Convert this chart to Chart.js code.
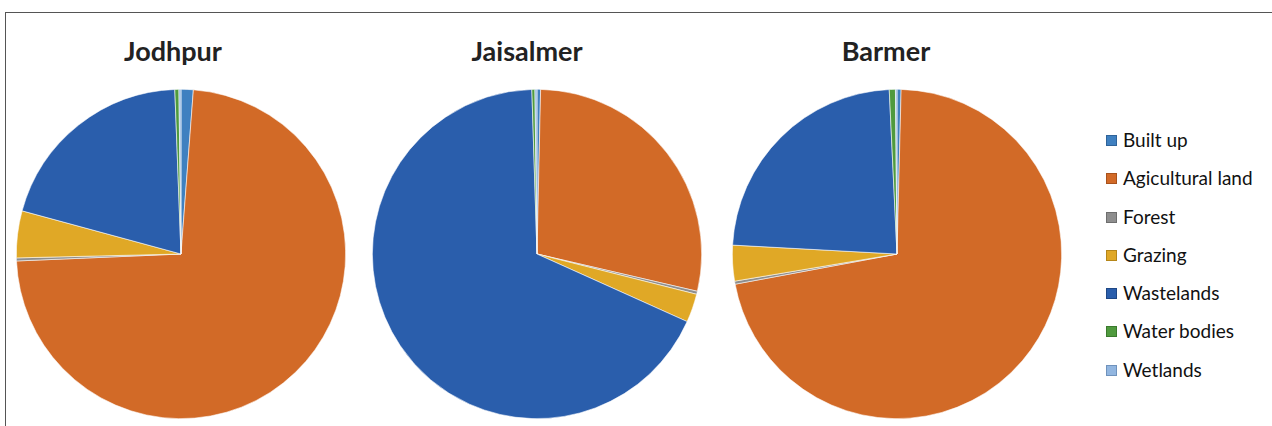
<!DOCTYPE html>
<html>
<head>
<meta charset="utf-8">
<script src="https://cdn.jsdelivr.net/npm/chart.js@4.4.0/dist/chart.umd.min.js"></script>
<style>
  html, body { margin: 0; padding: 0; background: #fff; overflow: hidden; }
  body { width: 1272px; height: 426px; position: relative; font-family: Lato, "Open Sans", sans-serif; }
  .frame { position: absolute; left: 5px; top: 12px; width: 1300px; height: 500px; border: 1px solid #555; box-sizing: border-box; }
  .title { position: absolute; top: 34px; width: 300px; text-align: center; font-weight: bold; font-size: 27px; color: #222; }
  .pie { position: absolute; top: 84px; width: 340px; height: 340px; }
  #legend { position: absolute; left: 1106px; top: 128px; }
  .item { height: 38.3px; display: flex; align-items: flex-start; font-size: 19px; color: #111; }
  .box { width: 9px; height: 9px; margin-top: 7px; margin-right: 6px; border: 1px solid; }
</style>
</head>
<body>
<div class="frame"></div>
<div class="title" style="left:23px">Jodhpur</div>
<div class="title" style="left:377px">Jaisalmer</div>
<div class="title" style="left:736px">Barmer</div>
<canvas id="c1" class="pie" style="left:11px"></canvas>
<canvas id="c2" class="pie" style="left:367px"></canvas>
<canvas id="c3" class="pie" style="left:727px"></canvas>
<div id="legend"></div>
<script>
// land use categories (clockwise from top)
const categories = ['Built up', 'Agicultural land', 'Forest', 'Grazing', 'Wastelands', 'Water bodies', 'Wetlands'];
const colors = ['#3F80C0', '#D26A27', '#8E8E8E', '#E0A826', '#2A5EAC', '#4F9A3E', '#92B6E0'];
const borders = ['#2F6399', '#A8521C', '#6E6E6E', '#B58619', '#1E4785', '#3B7A2D', '#6F92BC'];

// percentages
const jodhpur = [1.2, 73.2, 0.3, 4.6, 20.2, 0.4, 0.2];
const jaisalmer = [0.35, 28.3, 0.3, 2.8, 67.8, 0.3, 0.2];
const barmer = [0.4, 71.7, 0.3, 3.5, 23.4, 0.6, 0.15];

function makePie(id, values) {
    new Chart(document.getElementById(id), {
        type: 'pie',
        data: {
            labels: categories,
            datasets: [{
                data: values,
                backgroundColor: colors,
                borderColor: 'rgba(255,255,255,0.8)',
                borderWidth: 0.7
            }]
        },
        options: {
            responsive: false,
            animation: false,
            layout: { padding: 5 },
            plugins: { legend: { display: false }, tooltip: { enabled: false } }
        }
    });
}

makePie('c1', jodhpur);
makePie('c2', jaisalmer);
makePie('c3', barmer);

// legend
const legendEl = document.getElementById('legend');
categories.forEach((name, i) => {
    const row = document.createElement('div');
    row.className = 'item';
    row.innerHTML = `<span class="box" style="background:${colors[i]};border-color:${borders[i]}"></span><span>${name}</span>`;
    legendEl.appendChild(row);
});
</script>
</body>
</html>
